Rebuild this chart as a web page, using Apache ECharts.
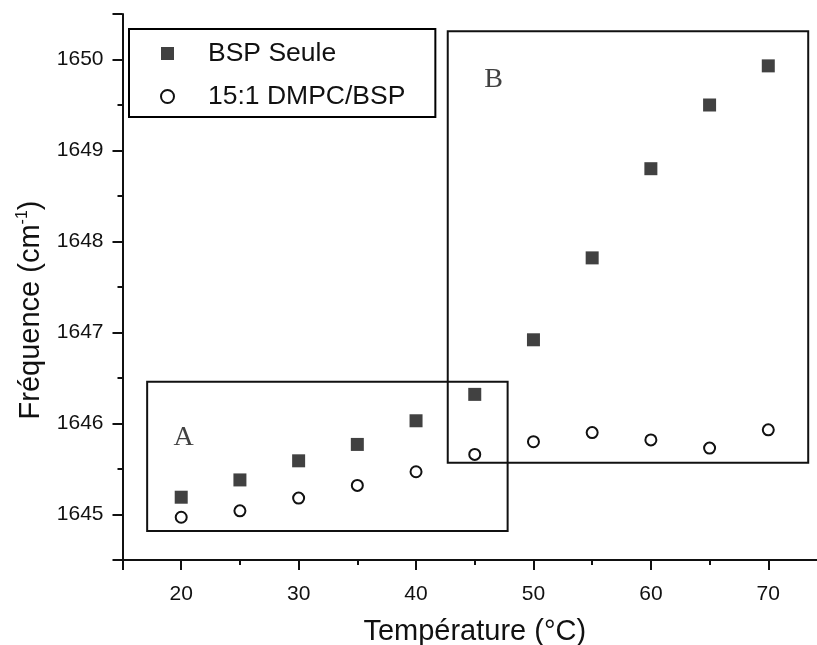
<!DOCTYPE html>
<html><head><meta charset="utf-8">
<script src="https://cdn.jsdelivr.net/npm/echarts@6/dist/echarts.min.js"></script>
<style>html,body{margin:0;padding:0;background:#fff}#c{width:817px;height:645px}</style>
</head><body><div id="c"></div>
<script>
const temperatures = [20, 25, 30, 35, 40, 45, 50, 55, 60, 65, 70];
const bspSeule = [1645.19, 1645.38, 1645.59, 1645.77, 1646.03, 1646.32, 1646.92, 1647.82, 1648.80, 1649.50, 1649.93];
const dmpcBsp = [1644.97, 1645.04, 1645.18, 1645.32, 1645.47, 1645.66, 1645.80, 1645.90, 1645.82, 1645.73, 1645.93];
const seriesNames = ['BSP Seule', '15:1 DMPC/BSP'];
const boxA = [[17.1, 1646.46], [47.8, 1644.82]];
const boxB = [[42.7, 1650.31], [73.4, 1645.57]];
const boxLabels = ['A', 'B'];
const boxLabelPos = [[20.2, 1645.84], [46.6, 1649.78]];
const xRange = [15, 75];
const yRange = [1644.5, 1650.5];

const FONT = 'Liberation Sans';
const chart = echarts.init(document.getElementById('c'), null, {renderer: 'canvas'});
const zip = (xs, ys) => xs.map((x, i) => [x, ys[i]]);

chart.setOption({
  animation: false,
  backgroundColor: '#fff',
  grid: {left: 122.5, top: 14, right: -10, bottom: 85, containLabel: false, outerBoundsMode: 'none'},
  legend: {
    orient: 'vertical', left: 129, top: 29,
    data: seriesNames,
    itemWidth: 13, itemHeight: 13, itemGap: 16,
    padding: [11, 30, 7, 31],
    borderColor: '#000', borderWidth: 2,
    textStyle: {fontFamily: FONT, fontSize: 26.5, color: '#111', padding: [0, 0, 0, 29], lineHeight: 24}
  },
  xAxis: {
    type: 'value', min: xRange[0], max: xRange[1], splitNumber: 6,
    name: 'Température (°C)', nameLocation: 'middle', nameGap: 57,
    nameTextStyle: {fontFamily: FONT, fontSize: 29, color: '#111'},
    axisLine: {lineStyle: {color: '#111', width: 2}},
    axisTick: {length: 10, lineStyle: {color: '#111', width: 2}},
    minorTick: {show: true, splitNumber: 2, length: 5, lineStyle: {color: '#111', width: 2}},
    axisLabel: {fontFamily: FONT, fontSize: 21, color: '#111', margin: 24, showMinLabel: false, showMaxLabel: false},
    splitLine: {show: false}
  },
  yAxis: {
    type: 'value', min: yRange[0], max: yRange[1], splitNumber: 6,
    name: 'Fréquence (cm{sup|-1})', nameLocation: 'middle', nameGap: 76,
    nameTextStyle: {fontFamily: FONT, fontSize: 29, color: '#111', padding: [0, 46, 0, 0],
      rich: {sup: {fontFamily: FONT, fontSize: 16, color: '#111', padding: [0, 0, 16, 0]}}},
    axisLine: {show: true, lineStyle: {color: '#111', width: 2}},
    axisTick: {show: true, length: 10, lineStyle: {color: '#111', width: 2}},
    minorTick: {show: true, splitNumber: 2, length: 5, lineStyle: {color: '#111', width: 2}},
    axisLabel: {fontFamily: FONT, fontSize: 21, color: '#111', margin: 19, showMinLabel: false, showMaxLabel: false,
      formatter: v => String(v)},
    splitLine: {show: false}
  },
  series: [
    {
      name: seriesNames[0], type: 'scatter', symbol: 'rect', symbolSize: 13,
      itemStyle: {color: '#111'}, data: zip(temperatures, bspSeule), z: 5
    },
    {
      name: seriesNames[1], type: 'scatter', symbol: 'circle', symbolSize: 11,
      itemStyle: {color: '#fff', borderColor: '#111', borderWidth: 2, opacity: 1},
      data: zip(temperatures, dmpcBsp), z: 5
    },
    {
      name: 'boxes', type: 'scatter', symbolSize: 0, silent: true,
      data: boxLabelPos.map((p, i) => ({name: boxLabels[i], value: p})),
      label: {show: true, position: 'inside', formatter: '{b}', fontFamily: 'Liberation Serif', fontSize: 28, color: '#111'},
      markArea: {
        silent: true,
        itemStyle: {color: 'rgba(0,0,0,0)', borderColor: '#111', borderWidth: 2},
        data: [
          [{coord: boxA[0]}, {coord: boxA[1]}],
          [{coord: boxB[0]}, {coord: boxB[1]}]
        ]
      }
    }
  ]
});
</script></body></html>
